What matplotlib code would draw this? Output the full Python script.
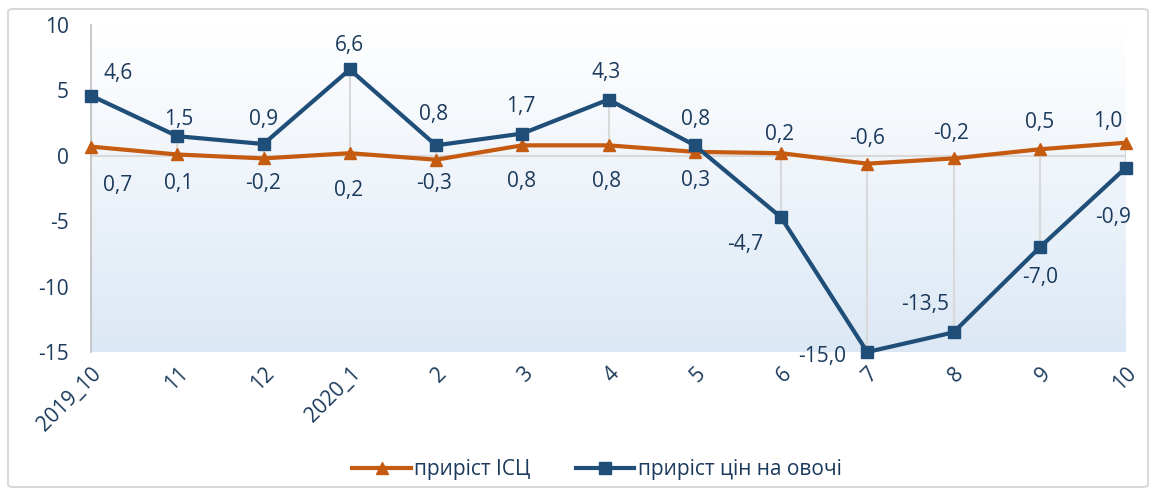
import numpy as np
import matplotlib
matplotlib.use("Agg")
import matplotlib.pyplot as plt
from matplotlib.patches import FancyBboxPatch
from matplotlib.lines import Line2D

plt.rcParams['font.family'] = ['Open Sans', 'DejaVu Sans']

# data
categories = ['2019_10', '11', '12', '2020_1', '2', '3', '4', '5', '6', '7', '8', '9', '10']
cpi_growth = [0.7, 0.1, -0.2, 0.2, -0.3, 0.8, 0.8, 0.3, 0.2, -0.6, -0.2, 0.5, 1.0]
veg_growth = [4.6, 1.5, 0.9, 6.6, 0.8, 1.7, 4.3, 0.8, -4.7, -15.0, -13.5, -7.0, -0.9]
cpi_name = 'приріст ІСЦ'
veg_name = 'приріст цін на овочі'

# label offsets in pixels (dx, dy)
veg_offsets = [(27, 22), (2, 17), (0, 25), (0, 24), (-2, 31), (-1, 27), (-2, 27),
               (1, 26), (-36, -27), (-45, -5), (-28, 28), (0, -30), (-13, -50)]
cpi_offsets = [(27, -39), (1, -29), (0, -25), (-1, -37), (-2, -24), (-1, -36), (-2, -36),
               (1, -29), (-1, 19), (0, 25), (-2, 25), (0, 27), (-18, 21)]

c_blue = '#1f4e79'
c_orange = '#c55a11'
c_text = '#1b3a5c'
c_grid = '#d9d9d9'
fs = 15

fig = plt.figure(figsize=(11.55, 4.91), dpi=100)
ax = fig.add_axes([91 / 1155, 1 - 352 / 491, (1126 - 91) / 1155, (352 - 25) / 491])

x = np.arange(len(categories))
ax.set_xlim(0, len(categories) - 1)
ax.set_ylim(-15, 10)

# gradient background
grad = np.linspace(0, 1, 256).reshape(-1, 1)
top = np.array([1.0, 1.0, 1.0])
bot = np.array([0xdc, 0xe8, 0xf5]) / 255
img = top + (bot - top) * grad[..., None]
ax.imshow(img, extent=[0, len(categories) - 1, -15, 10], aspect='auto', zorder=0,
          interpolation='bilinear')

# high-low lines and zero line
lo = np.minimum(cpi_growth, veg_growth)
hi = np.maximum(cpi_growth, veg_growth)
ax.vlines(x, lo, hi, color=c_grid, lw=1.5, zorder=1)
ax.axhline(0, color=c_grid, lw=1.5, zorder=1)

ax.plot(x, cpi_growth, color=c_orange, lw=3, marker='^', ms=9, zorder=3, clip_on=False)
ax.plot(x, veg_growth, color=c_blue, lw=3, marker='s', ms=9, zorder=4, clip_on=False)

for xi, v, (dx, dy) in zip(x, veg_growth, veg_offsets):
    ax.annotate(f'{v:.1f}'.replace('.', ','), (xi, v), xytext=(dx, dy),
                textcoords='offset pixels', ha='center', va='center',
                fontsize=fs, color=c_text, zorder=5, annotation_clip=False)
for xi, v, (dx, dy) in zip(x, cpi_growth, cpi_offsets):
    ax.annotate(f'{v:.1f}'.replace('.', ','), (xi, v), xytext=(dx, dy),
                textcoords='offset pixels', ha='center', va='center',
                fontsize=fs, color=c_text, zorder=5, annotation_clip=False)

ax.set_xticks(x)
ax.set_xticklabels(categories, rotation=45, ha='right', rotation_mode='anchor',
                   fontsize=fs, color=c_text)
ax.set_yticks([-15, -10, -5, 0, 5, 10])
ax.set_yticklabels(['-15', '-10', '-5', '0', '5', '10'], fontsize=fs, color=c_text)
ax.tick_params(axis='both', length=0)
ax.tick_params(axis='y', pad=16)
ax.tick_params(axis='x', pad=8)
for s in ['top', 'right', 'bottom']:
    ax.spines[s].set_visible(False)
ax.spines['left'].set_color('#bfbfbf')
ax.spines['left'].set_linewidth(1.2)

handles = [Line2D([], [], color=c_orange, lw=3, marker='^', ms=8),
           Line2D([], [], color=c_blue, lw=3, marker='s', ms=8)]
fig.legend(handles, [cpi_name, veg_name], loc='center', bbox_to_anchor=(597 / 1155, 1 - 470 / 491),
           ncol=2, frameon=False, fontsize=fs, labelcolor=c_text, handlelength=2.8,
           handletextpad=0.15, columnspacing=2.2)

border = FancyBboxPatch((8 / 1155, 4 / 491), 1140 / 1155, 478 / 491,
                        boxstyle='round,pad=0,rounding_size=0.005',
                        transform=fig.transFigure, fill=False, edgecolor='#d9d9d9', lw=1.5)
fig.patches.append(border)

fig.savefig('out.png', dpi=100)
